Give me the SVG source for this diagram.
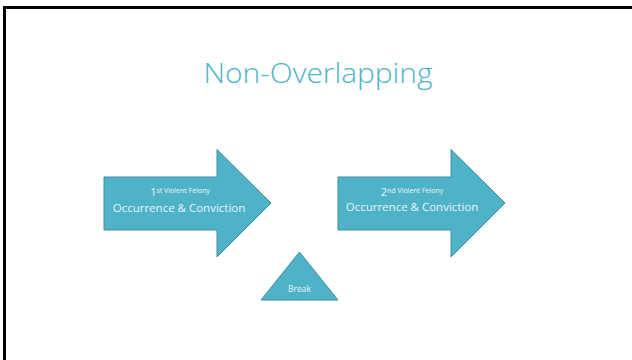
<svg xmlns="http://www.w3.org/2000/svg" width="632" height="360" viewBox="0 0 632 360">
<style>
.shape{fill:#4FB3C8;stroke:#3F8E9F;stroke-width:1}
.t{font-family:"Open Sans","Liberation Sans",sans-serif;fill:#E8F5F8;text-anchor:middle}
.title{font-family:"Open Sans","Liberation Sans",sans-serif;fill:#4DB3CA;font-size:28px;font-weight:300;text-anchor:middle}
</style>
<rect x="0" y="0" width="632" height="360" fill="#FFFFFF"/>
<rect x="4.5" y="7.5" width="640" height="370" fill="none" stroke="#000000" stroke-width="3"/>
<text class="title" x="318" y="83" textLength="229" lengthAdjust="spacingAndGlyphs">Non-Overlapping</text>
<g id="connectors"></g>
<g id="arrow1">
<polygon class="shape" points="104,177 217,177 217,149.5 271,203 217,257 217,230 104,230"/>
<text class="t" x="180" y="196"><tspan font-size="11">1</tspan><tspan font-size="7" dy="-3">st Violent Felony</tspan></text>
<text class="t" x="179" y="212" font-size="11.5">Occurrence &amp; Conviction</text>
</g>
<g id="arrow2">
<polygon class="shape" points="338,177 451,177 451,149.5 505,203 451,257 451,230 338,230"/>
<text class="t" x="412" y="196"><tspan font-size="11">2</tspan><tspan font-size="7" dy="-3">nd Violent Felony</tspan></text>
<text class="t" x="412" y="211" font-size="11.5">Occurrence &amp; Conviction</text>
</g>
<g id="break">
<polygon class="shape" points="299.5,252 338,300 261,300"/>
<text class="t" x="299.5" y="292" font-size="8.5">Break</text>
</g>
</svg>
